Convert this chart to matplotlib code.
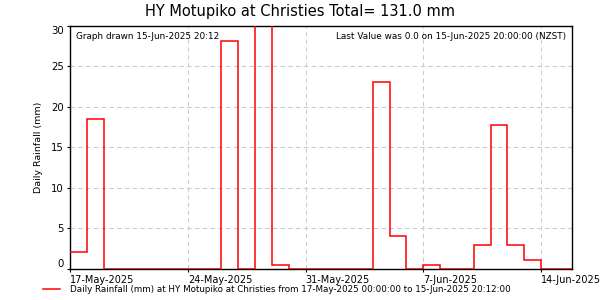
import numpy as np
import matplotlib
matplotlib.use('Agg')
import matplotlib.pyplot as plt
import matplotlib.dates as mdates
import matplotlib.transforms as mtransforms
from datetime import datetime, timedelta

# daily rainfall totals (mm), one per day starting 17-May-2025
start = datetime(2025, 5, 17)
rain = [2.0, 18.5, 0, 0, 0, 0, 0, 0, 0, 28.1, 0, 30.4, 0.5, 0, 0, 0, 0, 0,
        23.0, 4.0, 0, 0.5, 0, 0, 2.9, 17.7, 2.9, 1.0, 0, 0]
tick_days = ['17-May-2025', '24-May-2025', '31-May-2025', '7-Jun-2025', '14-Jun-2025']
title = 'HY Motupiko at Christies Total= 131.0 mm'
legend_label = ('Daily Rainfall (mm) at HY Motupiko at Christies from '
                '17-May-2025 00:00:00 to 15-Jun-2025 20:12:00')

plt.rcParams['font.family'] = ['DejaVu Sans']

edges = [mdates.date2num(start + timedelta(days=i)) for i in range(len(rain) + 1)]
x_end = mdates.date2num(datetime(2025, 6, 15, 20, 12))

fig = plt.figure(figsize=(6, 3), dpi=100)
ax = fig.add_axes([70 / 600, 1 - 268.8 / 300, 502 / 600, 243 / 300])

ax.stairs(rain, edges, baseline=None, color='red', linewidth=1.1, zorder=3)

ax.set_xlim(edges[0], x_end)
ax.set_ylim(-0.03, 30)

ticks = [mdates.date2num(datetime.strptime(t, '%d-%b-%Y')) for t in tick_days]
ax.set_xticks(ticks)
ax.set_xticklabels(tick_days, fontsize=7.0)
# labels start at the tick rather than centred on it
shift = mtransforms.ScaledTranslation(-3 / 100, 0, fig.dpi_scale_trans)
for lab in ax.get_xticklabels():
    lab.set_ha('left')
    lab.set_transform(lab.get_transform() + shift)
ax.set_yticks([0, 5, 10, 15, 20, 25, 30])
ax.set_yticklabels(['0', '5', '10', '15', '20', '25', '30'], fontsize=7.3)
ylabels = ax.get_yticklabels()
ylabels[0].set_va('bottom')
ylabels[-1].set_va('top')
ax.tick_params(axis='both', length=2.5, width=0.8, pad=2, colors='black')

ax.grid(True, linestyle=(0, (4, 3)), color='#cccccc', linewidth=0.8)
ax.set_axisbelow(True)
for s in ax.spines.values():
    s.set_linewidth(1.0)
    s.set_color('black')

ax.set_ylabel('Daily Rainfall (mm)', fontsize=6.8, labelpad=6)

fig.text(0.5, 0.962, title, ha='center', va='center', fontsize=10.5)
ax.text(0.012, 0.975, 'Graph drawn 15-Jun-2025 20:12', transform=ax.transAxes,
        ha='left', va='top', fontsize=6.4)
ax.text(0.988, 0.975, 'Last Value was 0.0 on 15-Jun-2025 20:00:00 (NZST)',
        transform=ax.transAxes, ha='right', va='top', fontsize=6.4)

# legend entry below the axes
fig.add_artist(plt.Line2D([43 / 600, 60 / 600], [1 - 289 / 300, 1 - 289 / 300],
                          color='red', linewidth=1.1))
fig.text(70 / 600, 1 - 289 / 300, legend_label, ha='left', va='center', fontsize=6.3)

fig.savefig('out.png', dpi=100)
